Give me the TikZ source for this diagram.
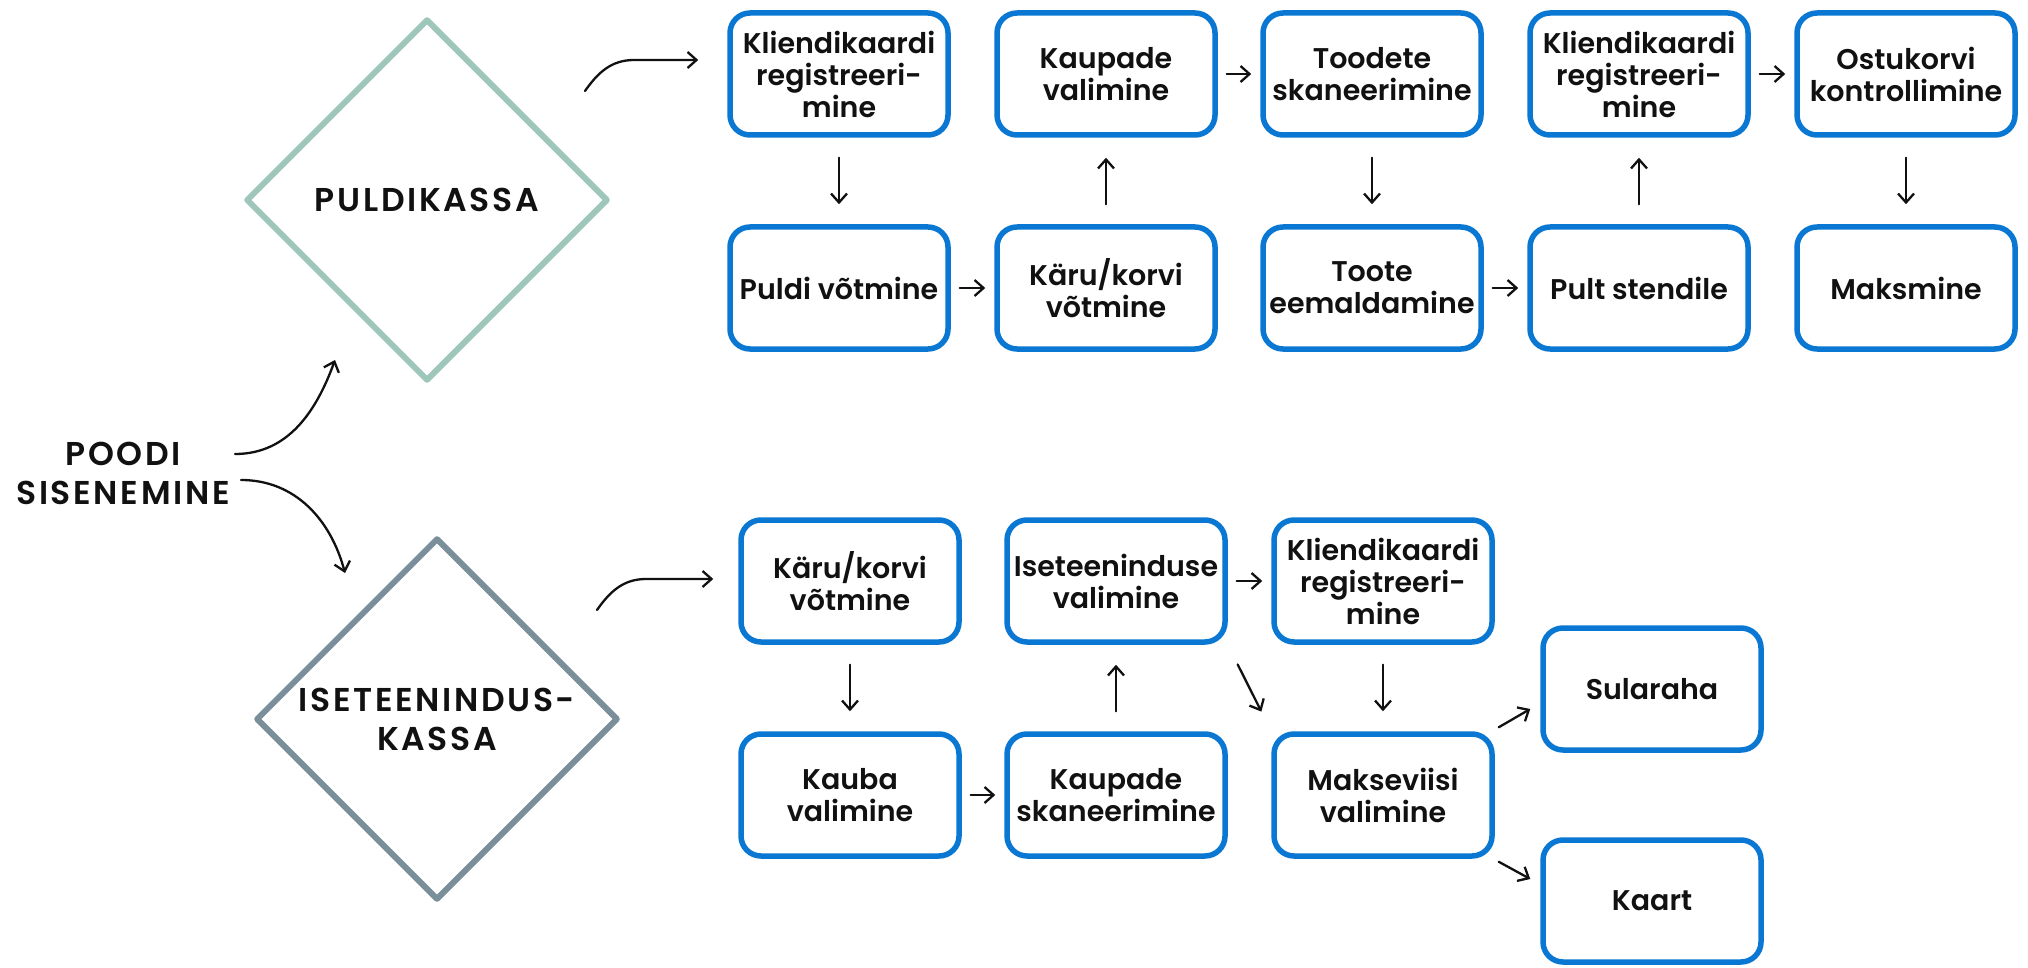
\documentclass[tikz,border=0pt]{standalone}
\usepackage{fontspec}
\setmainfont{Poppins}[BoldFont={Poppins SemiBold}]
\newfontfamily\pkcaps{Poppins SemiBold}[LetterSpace=8]
\usepackage{tikz}
\usetikzlibrary{arrows.meta,shapes.geometric}
\definecolor{pkBlue}{HTML}{0A78D2}
\definecolor{pkTeal}{HTML}{9EC6BA}
\definecolor{pkSlate}{HTML}{7A8F99}
\definecolor{pkInk}{HTML}{111111}
\tikzset{
  pk diagram/.style={x=1pt, y=1pt, text=pkInk,
    line cap=round, line join=round},
  pk box/.style={draw=pkBlue, fill=white, line width=5.5pt,
    rounded corners=20pt, minimum width=218pt, minimum height=122pt,
    align=center, inner sep=2pt, font=\bfseries\fontsize{28.5}{32}\selectfont},
  pk gate/.style={diamond, aspect=1, fill=white, line width=6pt,
    minimum width=362pt, minimum height=362pt, align=center,
    font=\pkcaps\fontsize{33}{39}\selectfont},
  pk title/.style={align=center, font=\pkcaps\fontsize{33}{39}\selectfont},
  pk arrow/.style={-{Straight Barb[length=9pt,width=16pt]}, draw=pkInk,
    line width=2.3pt},
  pk across/.style={pk arrow, shorten <=9pt, shorten >=9pt},
  pk down/.style={pk arrow, shorten <=20pt, shorten >=20pt}
}
\begin{document}
\begin{tikzpicture}[pk diagram]
\useasboundingbox (0,0) rectangle (2028,-968);
\node[pk title] (enter) at (123,-473) {POODI\\SISENEMINE};
\node[pk gate, draw=pkTeal] (pult) at (427,-200) {PULDIKASSA};
\node[pk gate, draw=pkSlate] (self) at (437,-719) {ISETEENINDUS-\\KASSA};
\node[pk box] (pk1) at (839,-74) {Kliendikaardi\\registreeri-\\mine};
\node[pk box] (pk2) at (839,-288) {Puldi võtmine};
\node[pk box] (pk3) at (1106,-288) {Käru/korvi\\võtmine};
\node[pk box] (pk4) at (1106,-74) {Kaupade\\valimine};
\node[pk box] (pk5) at (1372,-74) {Toodete\\skaneerimine};
\node[pk box] (pk6) at (1372,-288) {Toote\\eemaldamine};
\node[pk box] (pk7) at (1639,-288) {Pult stendile};
\node[pk box] (pk8) at (1639,-74) {Kliendikaardi\\registreeri-\\mine};
\node[pk box] (pk9) at (1906,-74) {Ostukorvi\\kontrollimine};
\node[pk box] (pk10) at (1906,-288) {Maksmine};
\node[pk box] (ik1) at (850,-581) {Käru/korvi\\võtmine};
\node[pk box] (ik2) at (850,-795) {Kauba\\valimine};
\node[pk box] (ik3) at (1116,-795) {Kaupade\\skaneerimine};
\node[pk box] (ik4) at (1116,-581) {Iseteeninduse\\valimine};
\node[pk box] (ik5) at (1383,-581) {Kliendikaardi\\registreeri-\\mine};
\node[pk box] (ik6) at (1383,-795) {Makseviisi\\valimine};
\node[pk box] (ik7) at (1652,-689) {Sularaha};
\node[pk box] (ik8) at (1652,-901) {Kaart};
\draw[pk arrow] ([shift={(2pt,19pt)}]enter.east) to[out=0,in=-110] ([yshift=-68pt]pult.south west);
\draw[pk arrow] ([shift={(8pt,-7pt)}]enter.east) to[out=0,in=105] ([yshift=54pt]self.north west);
\draw[pk arrow] ([shift={(66pt,17pt)}]pult.north east) to[out=55,in=180] ++(49pt,31pt) -- ([shift={(-29pt,14pt)}]pk1.west);
\draw[pk arrow] ([shift={(68pt,17pt)}]self.north east) to[out=55,in=180] ++(49pt,31pt) -- ([shift={(-25pt,2pt)}]ik1.west);
\foreach \a/\b in {pk2/pk3,pk4/pk5,pk6/pk7,pk8/pk9,ik2/ik3,ik4/ik5}
  \draw[pk across] (\a) -- (\b);
\foreach \a/\b in {pk1/pk2,pk3/pk4,pk5/pk6,pk7/pk8,pk9/pk10,ik1/ik2,ik3/ik4,ik5/ik6}
  \draw[pk down] (\a) -- (\b);
\draw[pk arrow, shorten <=22pt, shorten >=22pt] (ik4.south east) -- (ik6.north west);
\draw[pk arrow] ([shift={(4pt,4pt)}]ik6.north east) -- ([shift={(-10pt,-20pt)}]ik7.west);
\draw[pk arrow] ([shift={(4pt,-3pt)}]ik6.south east) -- ([shift={(-10pt,22pt)}]ik8.west);
\end{tikzpicture}
\end{document}
